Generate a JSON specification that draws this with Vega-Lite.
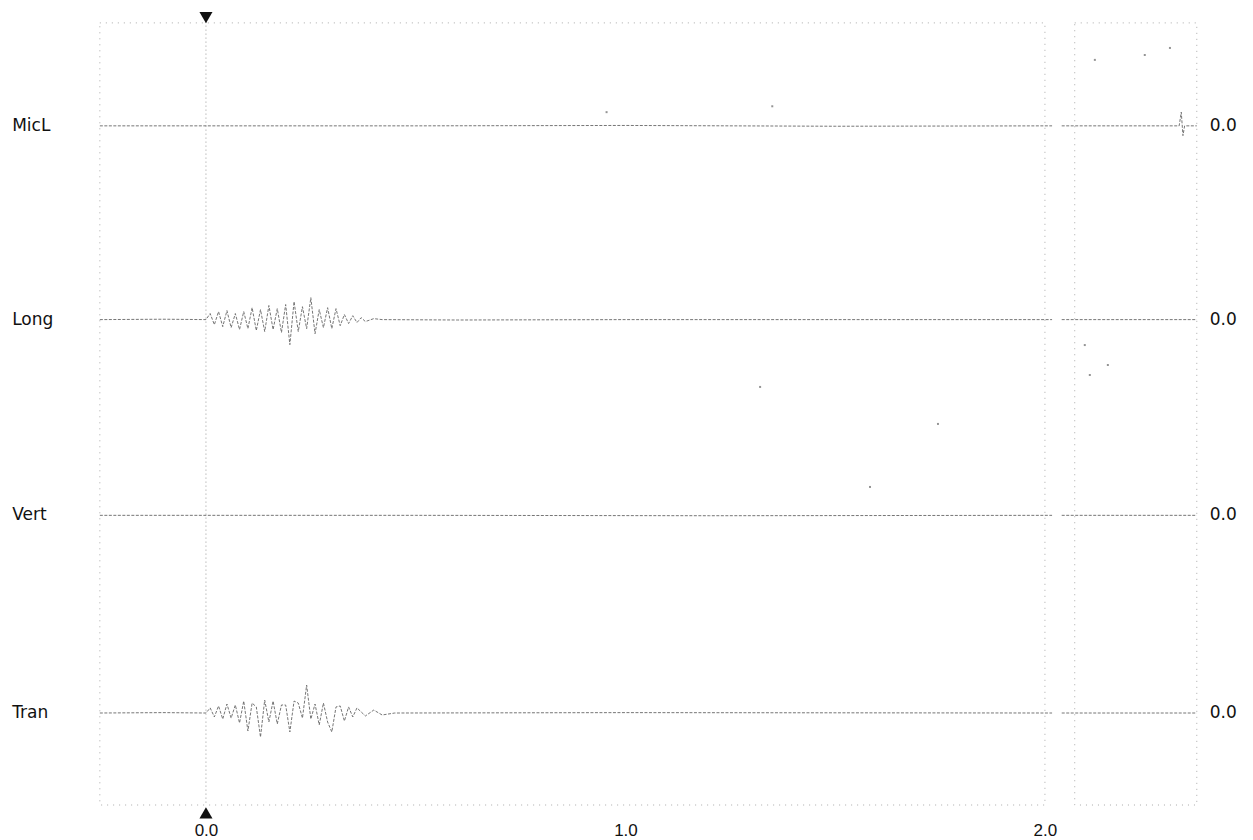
{
  "$schema": "https://vega.github.io/schema/vega-lite/v6.json",
  "width": 1253,
  "height": 805,
  "padding": 0,
  "background": "white",
  "config": {"view": {"stroke": null}},
  "datasets": {
    "traces": [
      {"ch": "MicL", "seg": "MicL-a", "x": -0.253, "y": 3.0},
      {"ch": "MicL", "seg": "MicL-a", "x": 0.5, "y": 3.0},
      {"ch": "MicL", "seg": "MicL-a", "x": 1.0, "y": 3.002},
      {"ch": "MicL", "seg": "MicL-a", "x": 1.5, "y": 2.998},
      {"ch": "MicL", "seg": "MicL-a", "x": 2.017, "y": 3.0},
      {"ch": "MicL", "seg": "MicL-b", "x": 2.04, "y": 3.0},
      {"ch": "MicL", "seg": "MicL-b", "x": 2.32, "y": 3.0},
      {"ch": "MicL", "seg": "MicL-b", "x": 2.325, "y": 3.07},
      {"ch": "MicL", "seg": "MicL-b", "x": 2.329, "y": 2.95},
      {"ch": "MicL", "seg": "MicL-b", "x": 2.333, "y": 3.0},
      {"ch": "MicL", "seg": "MicL-b", "x": 2.362, "y": 3.0},
      {"ch": "Long", "seg": "Long-a", "x": -0.253, "y": 2.01},
      {"ch": "Long", "seg": "Long-a", "x": -0.1, "y": 2.012},
      {"ch": "Long", "seg": "Long-a", "x": 0.0, "y": 2.01},
      {"ch": "Long", "seg": "Long-a", "x": 0.01, "y": 2.041},
      {"ch": "Long", "seg": "Long-a", "x": 0.02, "y": 1.984},
      {"ch": "Long", "seg": "Long-a", "x": 0.03, "y": 2.051},
      {"ch": "Long", "seg": "Long-a", "x": 0.04, "y": 1.974},
      {"ch": "Long", "seg": "Long-a", "x": 0.05, "y": 2.056},
      {"ch": "Long", "seg": "Long-a", "x": 0.06, "y": 1.969},
      {"ch": "Long", "seg": "Long-a", "x": 0.07, "y": 2.041},
      {"ch": "Long", "seg": "Long-a", "x": 0.08, "y": 1.959},
      {"ch": "Long", "seg": "Long-a", "x": 0.09, "y": 2.051},
      {"ch": "Long", "seg": "Long-a", "x": 0.1, "y": 1.964},
      {"ch": "Long", "seg": "Long-a", "x": 0.11, "y": 2.071},
      {"ch": "Long", "seg": "Long-a", "x": 0.12, "y": 1.954},
      {"ch": "Long", "seg": "Long-a", "x": 0.13, "y": 2.061},
      {"ch": "Long", "seg": "Long-a", "x": 0.14, "y": 1.949},
      {"ch": "Long", "seg": "Long-a", "x": 0.15, "y": 2.082},
      {"ch": "Long", "seg": "Long-a", "x": 0.16, "y": 1.959},
      {"ch": "Long", "seg": "Long-a", "x": 0.17, "y": 2.066},
      {"ch": "Long", "seg": "Long-a", "x": 0.18, "y": 1.944},
      {"ch": "Long", "seg": "Long-a", "x": 0.19, "y": 2.087},
      {"ch": "Long", "seg": "Long-a", "x": 0.2, "y": 1.882},
      {"ch": "Long", "seg": "Long-a", "x": 0.21, "y": 2.102},
      {"ch": "Long", "seg": "Long-a", "x": 0.22, "y": 1.949},
      {"ch": "Long", "seg": "Long-a", "x": 0.23, "y": 2.076},
      {"ch": "Long", "seg": "Long-a", "x": 0.24, "y": 1.964},
      {"ch": "Long", "seg": "Long-a", "x": 0.25, "y": 2.122},
      {"ch": "Long", "seg": "Long-a", "x": 0.26, "y": 1.938},
      {"ch": "Long", "seg": "Long-a", "x": 0.27, "y": 2.061},
      {"ch": "Long", "seg": "Long-a", "x": 0.28, "y": 1.969},
      {"ch": "Long", "seg": "Long-a", "x": 0.29, "y": 2.071},
      {"ch": "Long", "seg": "Long-a", "x": 0.3, "y": 1.964},
      {"ch": "Long", "seg": "Long-a", "x": 0.31, "y": 2.066},
      {"ch": "Long", "seg": "Long-a", "x": 0.32, "y": 1.979},
      {"ch": "Long", "seg": "Long-a", "x": 0.33, "y": 2.036},
      {"ch": "Long", "seg": "Long-a", "x": 0.34, "y": 1.99},
      {"ch": "Long", "seg": "Long-a", "x": 0.35, "y": 2.03},
      {"ch": "Long", "seg": "Long-a", "x": 0.36, "y": 1.995},
      {"ch": "Long", "seg": "Long-a", "x": 0.37, "y": 2.02},
      {"ch": "Long", "seg": "Long-a", "x": 0.38, "y": 2.0},
      {"ch": "Long", "seg": "Long-a", "x": 0.4, "y": 2.015},
      {"ch": "Long", "seg": "Long-a", "x": 0.42, "y": 2.01},
      {"ch": "Long", "seg": "Long-a", "x": 0.6, "y": 2.008},
      {"ch": "Long", "seg": "Long-a", "x": 1.0, "y": 2.01},
      {"ch": "Long", "seg": "Long-a", "x": 2.017, "y": 2.01},
      {"ch": "Long", "seg": "Long-b", "x": 2.04, "y": 2.01},
      {"ch": "Long", "seg": "Long-b", "x": 2.362, "y": 2.01},
      {"ch": "Vert", "seg": "Vert-a", "x": -0.253, "y": 1.01},
      {"ch": "Vert", "seg": "Vert-a", "x": 0.5, "y": 1.01},
      {"ch": "Vert", "seg": "Vert-a", "x": 1.2, "y": 1.008},
      {"ch": "Vert", "seg": "Vert-a", "x": 2.017, "y": 1.01},
      {"ch": "Vert", "seg": "Vert-b", "x": 2.04, "y": 1.01},
      {"ch": "Vert", "seg": "Vert-b", "x": 2.362, "y": 1.01},
      {"ch": "Tran", "seg": "Tran-a", "x": -0.253, "y": 0.0},
      {"ch": "Tran", "seg": "Tran-a", "x": -0.1, "y": 0.002},
      {"ch": "Tran", "seg": "Tran-a", "x": 0.0, "y": 0.0},
      {"ch": "Tran", "seg": "Tran-a", "x": 0.01, "y": 0.026},
      {"ch": "Tran", "seg": "Tran-a", "x": 0.02, "y": -0.02},
      {"ch": "Tran", "seg": "Tran-a", "x": 0.03, "y": 0.036},
      {"ch": "Tran", "seg": "Tran-a", "x": 0.04, "y": -0.031},
      {"ch": "Tran", "seg": "Tran-a", "x": 0.05, "y": 0.046},
      {"ch": "Tran", "seg": "Tran-a", "x": 0.06, "y": -0.026},
      {"ch": "Tran", "seg": "Tran-a", "x": 0.07, "y": 0.041},
      {"ch": "Tran", "seg": "Tran-a", "x": 0.08, "y": -0.051},
      {"ch": "Tran", "seg": "Tran-a", "x": 0.09, "y": 0.061},
      {"ch": "Tran", "seg": "Tran-a", "x": 0.1, "y": -0.092},
      {"ch": "Tran", "seg": "Tran-a", "x": 0.11, "y": 0.051},
      {"ch": "Tran", "seg": "Tran-a", "x": 0.12, "y": 0.031},
      {"ch": "Tran", "seg": "Tran-a", "x": 0.13, "y": -0.123},
      {"ch": "Tran", "seg": "Tran-a", "x": 0.14, "y": 0.066},
      {"ch": "Tran", "seg": "Tran-a", "x": 0.15, "y": -0.046},
      {"ch": "Tran", "seg": "Tran-a", "x": 0.16, "y": 0.061},
      {"ch": "Tran", "seg": "Tran-a", "x": 0.17, "y": -0.056},
      {"ch": "Tran", "seg": "Tran-a", "x": 0.18, "y": 0.041},
      {"ch": "Tran", "seg": "Tran-a", "x": 0.19, "y": 0.041},
      {"ch": "Tran", "seg": "Tran-a", "x": 0.2, "y": -0.097},
      {"ch": "Tran", "seg": "Tran-a", "x": 0.21, "y": 0.061},
      {"ch": "Tran", "seg": "Tran-a", "x": 0.22, "y": 0.051},
      {"ch": "Tran", "seg": "Tran-a", "x": 0.23, "y": -0.026},
      {"ch": "Tran", "seg": "Tran-a", "x": 0.24, "y": 0.143},
      {"ch": "Tran", "seg": "Tran-a", "x": 0.25, "y": -0.031},
      {"ch": "Tran", "seg": "Tran-a", "x": 0.26, "y": 0.046},
      {"ch": "Tran", "seg": "Tran-a", "x": 0.27, "y": -0.061},
      {"ch": "Tran", "seg": "Tran-a", "x": 0.28, "y": 0.051},
      {"ch": "Tran", "seg": "Tran-a", "x": 0.29, "y": -0.046},
      {"ch": "Tran", "seg": "Tran-a", "x": 0.3, "y": -0.097},
      {"ch": "Tran", "seg": "Tran-a", "x": 0.31, "y": 0.031},
      {"ch": "Tran", "seg": "Tran-a", "x": 0.32, "y": 0.036},
      {"ch": "Tran", "seg": "Tran-a", "x": 0.33, "y": -0.041},
      {"ch": "Tran", "seg": "Tran-a", "x": 0.34, "y": 0.031},
      {"ch": "Tran", "seg": "Tran-a", "x": 0.35, "y": -0.02},
      {"ch": "Tran", "seg": "Tran-a", "x": 0.36, "y": 0.026},
      {"ch": "Tran", "seg": "Tran-a", "x": 0.38, "y": -0.015},
      {"ch": "Tran", "seg": "Tran-a", "x": 0.4, "y": 0.015},
      {"ch": "Tran", "seg": "Tran-a", "x": 0.42, "y": -0.01},
      {"ch": "Tran", "seg": "Tran-a", "x": 0.45, "y": 0.0},
      {"ch": "Tran", "seg": "Tran-a", "x": 1.0, "y": 0.002},
      {"ch": "Tran", "seg": "Tran-a", "x": 2.017, "y": 0.0},
      {"ch": "Tran", "seg": "Tran-b", "x": 2.04, "y": 0.0},
      {"ch": "Tran", "seg": "Tran-b", "x": 2.362, "y": 0.0}
    ],
    "labels": [
      {"name": "MicL", "x": -0.462, "y": 3.0, "xr": 2.393},
      {"name": "Long", "x": -0.462, "y": 2.01, "xr": 2.393},
      {"name": "Vert", "x": -0.462, "y": 1.01, "xr": 2.393},
      {"name": "Tran", "x": -0.462, "y": 0.0, "xr": 2.393}
    ],
    "frames": [
      {"name": "main", "x": -0.253, "x2": 2.0, "y": 3.526, "y2": -0.47},
      {"name": "box", "x": 2.071, "x2": 2.362, "y": 3.526, "y2": -0.47}
    ],
    "marker": [
      {"pos": "top", "x": 0.0, "y": 3.553, "shape": "triangle-down"},
      {"pos": "bottom", "x": 0.0, "y": -0.51, "shape": "triangle-up"}
    ],
    "zeroline": [{"x": 0.0, "y": 3.553, "y2": -0.47}],
    "specks": [
      {"x": 1.321, "y": 1.666},
      {"x": 1.745, "y": 1.477},
      {"x": 1.583, "y": 1.155},
      {"x": 2.095, "y": 1.88},
      {"x": 2.15, "y": 1.778},
      {"x": 2.107, "y": 1.727},
      {"x": 2.119, "y": 3.337},
      {"x": 2.238, "y": 3.362},
      {"x": 2.298, "y": 3.398},
      {"x": 0.955, "y": 3.07},
      {"x": 1.35, "y": 3.1}
    ]
  },
  "layer": [
    {
      "data": {"name": "frames"},
      "mark": {"type": "rect", "fill": null, "stroke": "#aaa", "strokeWidth": 1, "strokeDash": [1, 5]},
      "encoding": {
        "x": {"field": "x", "type": "quantitative", "scale": {"domain": [-0.491, 2.496], "nice": false, "zero": false},
          "axis": {"values": [0, 1, 2], "format": ".1f", "domain": false, "ticks": false, "grid": false, "title": null,
            "labelFontSize": 17, "labelFont": "Liberation Sans", "labelColor": "#111", "labelPadding": 17}},
        "x2": {"field": "x2"},
        "y": {"field": "y", "type": "quantitative", "scale": {"domain": [-0.47, 3.643], "nice": false, "zero": false}, "axis": null},
        "y2": {"field": "y2"}
      }
    },
    {
      "data": {"name": "zeroline"},
      "mark": {"type": "rule", "stroke": "#999", "strokeWidth": 1, "strokeDash": [1, 3]},
      "encoding": {
        "x": {"field": "x", "type": "quantitative"},
        "y": {"field": "y", "type": "quantitative"},
        "y2": {"field": "y2"}
      }
    },
    {
      "data": {"name": "traces"},
      "mark": {"type": "line", "stroke": "#666", "strokeWidth": 0.9, "strokeDash": [3, 1.5], "interpolate": "linear"},
      "encoding": {
        "x": {"field": "x", "type": "quantitative"},
        "y": {"field": "y", "type": "quantitative"},
        "detail": {"field": "seg", "type": "nominal"},
        "order": {"field": "x", "type": "quantitative"}
      }
    },
    {
      "data": {"name": "specks"},
      "mark": {"type": "point", "filled": true, "color": "#666", "size": 4, "shape": "square"},
      "encoding": {
        "x": {"field": "x", "type": "quantitative"},
        "y": {"field": "y", "type": "quantitative"}
      }
    },
    {
      "data": {"name": "marker"},
      "mark": {"type": "point", "filled": true, "color": "#111", "size": 170, "opacity": 1},
      "encoding": {
        "x": {"field": "x", "type": "quantitative"},
        "y": {"field": "y", "type": "quantitative"},
        "shape": {"field": "shape", "type": "nominal", "scale": null, "legend": null}
      }
    },
    {
      "data": {"name": "labels"},
      "mark": {"type": "text", "align": "left", "baseline": "middle", "font": "DejaVu Sans", "fontSize": 17, "color": "#111"},
      "encoding": {
        "x": {"field": "x", "type": "quantitative"},
        "y": {"field": "y", "type": "quantitative"},
        "text": {"field": "name", "type": "nominal"}
      }
    },
    {
      "data": {"name": "labels"},
      "mark": {"type": "text", "align": "left", "baseline": "middle", "font": "DejaVu Sans", "fontSize": 17, "color": "#111", "text": "0.0"},
      "encoding": {
        "x": {"field": "xr", "type": "quantitative"},
        "y": {"field": "y", "type": "quantitative"}
      }
    }
  ]
}
